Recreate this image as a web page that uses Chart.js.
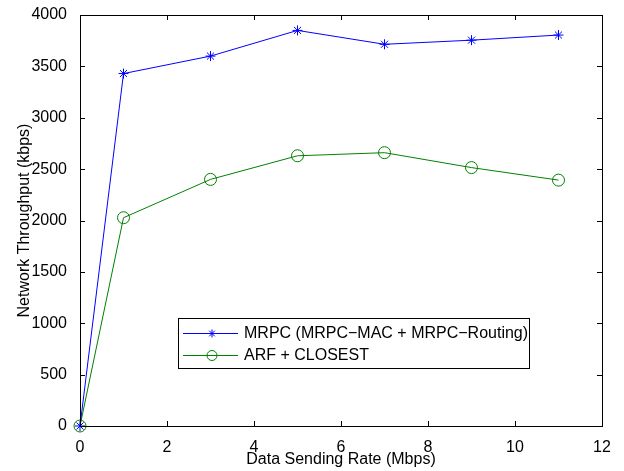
<!DOCTYPE html>
<html lang="en">
<head>
<meta charset="UTF-8">
<title>Network Throughput</title>
<script src="https://cdn.jsdelivr.net/npm/chart.js"></script>
<style>
  html, body { margin: 0; padding: 0; background: #fff; }
  #wrap { width: 624px; height: 471px; }
</style>
</head>
<body>
<div id="wrap"><canvas id="chart" width="624" height="471"></canvas></div>
<script>
// data
const rates = [0, 1, 3, 5, 7, 9, 11];
const mrpc = [0, 3430, 3600, 3850, 3715, 3755, 3805];
const arf = [0, 2027, 2400, 2630, 2660, 2515, 2393];
const seriesNames = ['MRPC (MRPC\u2212MAC + MRPC\u2212Routing)', 'ARF + CLOSEST'];
const xTicks = [0, 2, 4, 6, 8, 10, 12];
const yTicks = [0, 500, 1000, 1500, 2000, 2500, 3000, 3500, 4000];

const FONT = 'Liberation Sans, Arial, Helvetica, sans-serif';
const FSIZE = 16;

function toPoints(ys) {
  return rates.map((x, i) => ({ x: x, y: ys[i] }));
}

// matlab style box with inward ticks and legend box
const boxPlugin = {
  id: 'box',
  afterDraw(chart) {
    const c = chart.ctx;
    const a = chart.chartArea;
    const xs = chart.scales.x, ys = chart.scales.y;
    c.save();
    c.strokeStyle = '#000';
    c.lineWidth = 1;
    c.strokeRect(Math.round(a.left) + 0.5, Math.round(a.top) + 0.5,
      Math.round(a.right - a.left), Math.round(a.bottom - a.top));
    c.beginPath();
    xTicks.forEach(v => {
      const px = Math.round(xs.getPixelForValue(v)) + 0.5;
      c.moveTo(px, a.bottom); c.lineTo(px, a.bottom - 5);
      c.moveTo(px, a.top); c.lineTo(px, a.top + 5);
    });
    yTicks.forEach(v => {
      const py = Math.round(ys.getPixelForValue(v)) + 0.5;
      c.moveTo(a.left, py); c.lineTo(a.left + 5, py);
      c.moveTo(a.right, py); c.lineTo(a.right - 5, py);
    });
    c.stroke();

    // legend
    const lx = 178, ly = 318, lw = 351, lh = 50;
    c.fillStyle = '#fff';
    c.fillRect(lx, ly, lw, lh);
    c.strokeRect(lx + 0.5, ly + 0.5, lw, lh);
    c.font = FSIZE + 'px ' + FONT;
    c.textBaseline = 'middle';
    chart.data.datasets.forEach((ds, i) => {
      const yy = ly + 15 + i * 22;
      c.strokeStyle = ds.borderColor;
      c.beginPath();
      c.moveTo(183, yy + 0.5); c.lineTo(238, yy + 0.5);
      c.stroke();
      c.fillStyle = 'rgba(0,0,0,0)';
      Chart.helpers.drawPoint(c, {
        pointStyle: ds.pointStyle, radius: ds.pointRadius - 1,
        borderWidth: 1, rotation: 0
      }, 212, yy + 0.5);
      c.fillStyle = '#000';
      c.fillText(ds.label, 244, yy + 1);
    });
    c.restore();
  }
};

new Chart(document.getElementById('chart'), {
  type: 'line',
  data: {
    datasets: [
      {
        label: seriesNames[0],
        data: toPoints(mrpc),
        borderColor: '#0000ff',
        backgroundColor: 'rgba(0,0,0,0)',
        borderWidth: 1,
        pointStyle: 'star',
        pointRadius: 5,
        pointBorderWidth: 1,
        tension: 0,
        clip: false
      },
      {
        label: seriesNames[1],
        data: toPoints(arf),
        borderColor: '#008000',
        backgroundColor: 'rgba(0,0,0,0)',
        borderWidth: 1,
        pointStyle: 'circle',
        pointRadius: 6,
        pointBorderWidth: 1,
        tension: 0,
        clip: false
      }
    ]
  },
  options: {
    responsive: false,
    animation: false,
    layout: { padding: { left: 0, top: 15, right: 22, bottom: 0 } },
    plugins: { legend: { display: false }, tooltip: { enabled: false } },
    scales: {
      x: {
        type: 'linear', min: 0, max: 12,
        afterBuildTicks: s => { s.ticks = xTicks.map(v => ({ value: v })); },
        afterFit: s => { s.height = 45; },
        grid: { display: false },
        border: { display: false },
        ticks: { color: '#000', font: { family: FONT, size: FSIZE }, padding: 4, maxRotation: 0,
                 callback: v => String(v) },
        title: {
          display: true, text: 'Data Sending Rate (Mbps)', color: '#000',
          font: { family: FONT, size: FSIZE }, padding: { top: 0, bottom: 2 }
        }
      },
      y: {
        type: 'linear', min: 0, max: 4000,
        afterBuildTicks: s => { s.ticks = yTicks.map(v => ({ value: v })); },
        afterFit: s => { s.width = 80; },
        grid: { display: false },
        border: { display: false },
        ticks: { color: '#000', font: { family: FONT, size: FSIZE }, padding: 5,
                 callback: v => String(v) },
        title: {
          display: true, text: 'Network Throughput (kbps)', color: '#000',
          font: { family: FONT, size: FSIZE }, padding: { top: 15, bottom: 0 }
        }
      }
    }
  },
  plugins: [boxPlugin]
});
</script>
</body>
</html>
